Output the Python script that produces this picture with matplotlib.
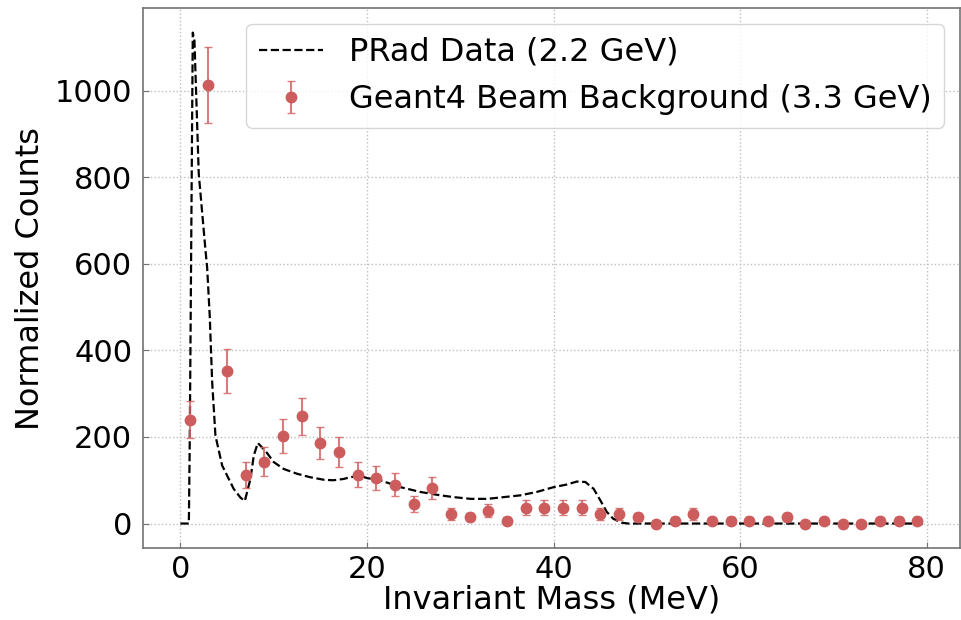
import matplotlib
matplotlib.use("Agg")
import matplotlib.pyplot as plt
import numpy as np

# PRad data (dashed line)
prad_mass = [0.0, 0.9, 1.0, 1.32, 1.5, 1.96, 2.68, 2.86, 3.14, 3.4, 3.75, 4.47,
             5.71, 6.43, 6.9, 7.5, 7.86, 8.29, 9.1, 10.0, 11.07, 12.5, 13.9,
             15.4, 16.4, 17.5, 18.2, 19.3, 20.0, 21.4, 23.6, 25.7, 27.9, 29.3,
             31.1, 32.9, 34.65, 36.4, 38.2, 40.0, 41.4, 42.5, 43.4, 44.3, 45.0,
             45.7, 46.4, 47.3, 48.0, 79.6]
prad_counts = [0, 0, 200, 1134, 1115, 808, 632, 591, 479, 326, 203, 134,
               80, 60, 52, 103, 157, 186, 168, 142, 126, 115, 107,
               101, 100, 103, 107, 110, 105, 100, 84, 73, 65, 61,
               57, 57, 61, 65, 73, 84, 90, 97, 96, 80, 54,
               27, 11, 2, 0, 0]

# Geant4 beam background points
g4_mass = [1, 3, 5, 7, 9, 11, 13, 15, 17, 19, 21, 23, 25, 27, 29, 31, 33, 35, 37, 39,
           41, 43, 45, 47, 49, 51, 53, 55, 57, 59, 61, 63, 65, 67, 69, 71, 73, 75, 77, 79]
g4_counts = [240, 1013, 352, 112, 143, 202, 248, 187, 165, 113, 105, 90, 45, 82, 22, 15, 30, 7, 37, 37,
             37, 37, 22, 22, 15, 0, 7, 22, 7, 7, 7, 7, 15, 0, 7, 0, 0, 7, 7, 7]
g4_err = [42, 87, 51, 29, 33, 39, 43, 37, 35, 29, 28, 26, 18, 25, 13, 10, 15, 7, 17, 17,
          17, 17, 13, 13, 10, 0, 7, 13, 7, 7, 7, 7, 10, 0, 7, 0, 0, 7, 7, 7]

plt.rcParams['font.size'] = 23

fig = plt.figure(figsize=(9.62, 6.2), dpi=100)
ax = fig.add_axes([0.149, 0.116, 0.849, 0.871])

ax.plot(prad_mass, prad_counts, "k--", lw=1.6, label="PRad Data (2.2 GeV)", zorder=3)
ax.errorbar(g4_mass, g4_counts, yerr=g4_err, fmt="o", color="indianred", ms=7.5,
            capsize=3, elinewidth=1.5, ecolor=(0.82, 0.40, 0.40, 0.85),
            label="Geant4 Beam Background (3.3 GeV)", zorder=4)

ax.set_xlabel("Invariant Mass (MeV)", labelpad=0)
ax.set_ylabel("Normalized Counts", labelpad=6)
ax.grid(True, linestyle=":", color="0.75", lw=1)
ax.set_axisbelow(True)
ax.tick_params(direction="in", color="0.45", length=4, labelsize=22)
ax.tick_params(axis="y", pad=8)
ax.tick_params(axis="x", pad=5)
for s in ax.spines.values():
    s.set_color("0.45")
    s.set_linewidth(1.2)

ax.legend(loc="upper right", fontsize=23, handlelength=2.0)

fig.savefig("out.png", dpi=100)
